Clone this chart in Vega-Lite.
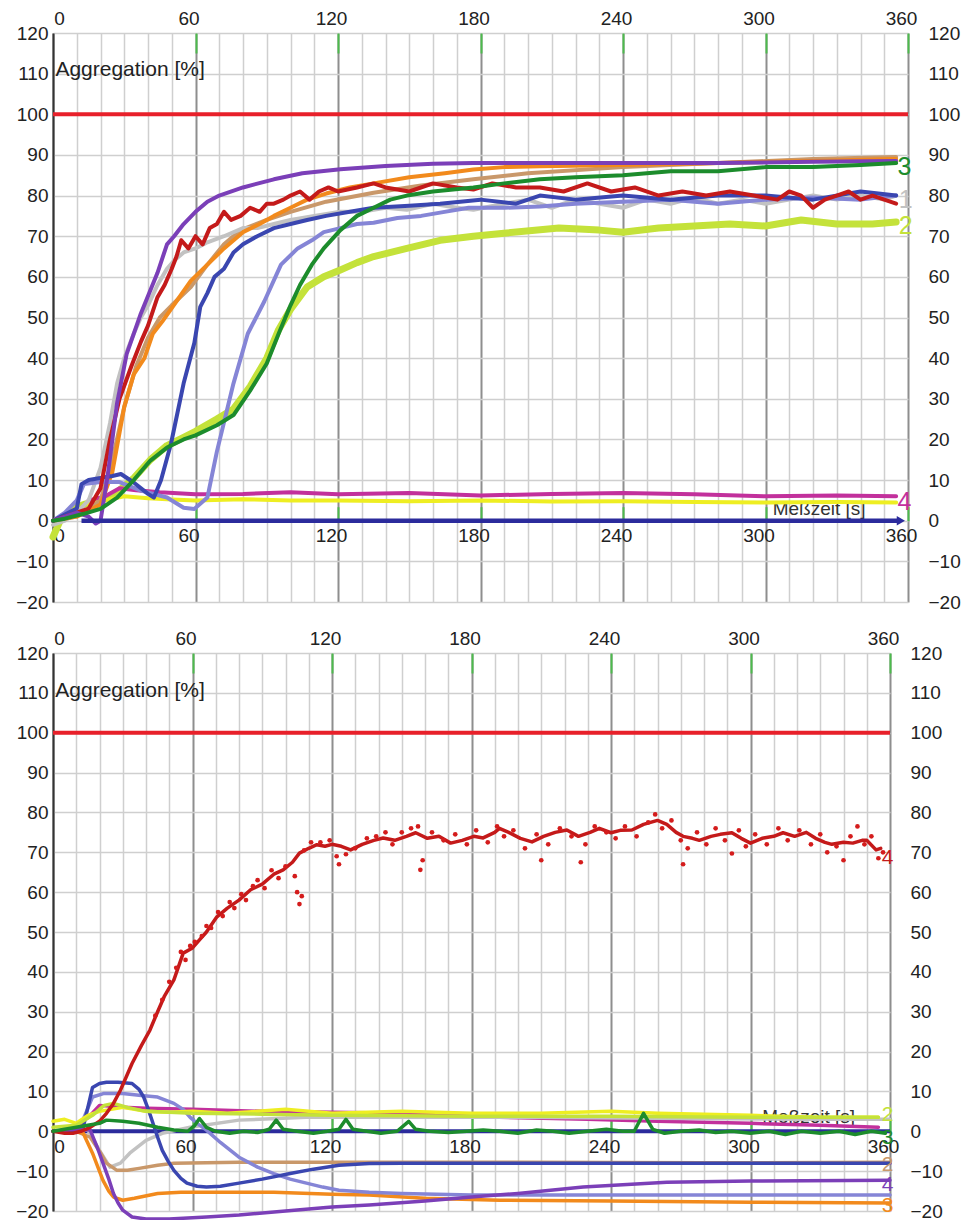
{
"$schema": "https://vega.github.io/schema/vega-lite/v6.json",
"background": "white",
"padding": {"left": 15, "top": 9, "right": 0, "bottom": 0},
"autosize": {"type": "pad"},
"config": {"view": {"stroke": null}, "font": "Liberation Sans", "text": {"font": "Liberation Sans"}},
"spacing": 51,
"bounds": "flush",
"datasets": {
"one": [{}],
"top": [
{"s":"yellow","t":15,"v":4},{"s":"yellow","t":22,"v":5},{"s":"yellow","t":30,"v":6},{"s":"yellow","t":40,"v":5.5},{"s":"yellow","t":50,"v":5.2},{"s":"yellow","t":60,"v":5},{"s":"yellow","t":80,"v":5.3},{"s":"yellow","t":100,"v":5},{"s":"yellow","t":120,"v":5},{"s":"yellow","t":150,"v":4.8},{"s":"yellow","t":180,"v":5},{"s":"yellow","t":210,"v":4.7},{"s":"yellow","t":240,"v":4.8},{"s":"yellow","t":270,"v":4.6},{"s":"yellow","t":300,"v":4.5},{"s":"yellow","t":330,"v":4.6},{"s":"yellow","t":355,"v":4.5},
{"s":"magenta","t":15,"v":5},{"s":"magenta","t":22,"v":6},{"s":"magenta","t":28,"v":8},{"s":"magenta","t":35,"v":7.5},{"s":"magenta","t":45,"v":7},{"s":"magenta","t":60,"v":6.5},{"s":"magenta","t":80,"v":6.6},{"s":"magenta","t":100,"v":7},{"s":"magenta","t":120,"v":6.5},{"s":"magenta","t":150,"v":6.8},{"s":"magenta","t":180,"v":6.2},{"s":"magenta","t":210,"v":6.6},{"s":"magenta","t":240,"v":6.8},{"s":"magenta","t":270,"v":6.5},{"s":"magenta","t":300,"v":6},{"s":"magenta","t":330,"v":6.2},{"s":"magenta","t":355,"v":6},
{"s":"lime","t":0,"v":-4},{"s":"lime","t":3,"v":0},{"s":"lime","t":8,"v":3},{"s":"lime","t":13,"v":4},{"s":"lime","t":20,"v":5},{"s":"lime","t":27,"v":7},{"s":"lime","t":34,"v":10.5},{"s":"lime","t":41,"v":15},{"s":"lime","t":48,"v":18.5},{"s":"lime","t":55,"v":20.5},{"s":"lime","t":60,"v":22},{"s":"lime","t":69,"v":25},{"s":"lime","t":76,"v":27.5},{"s":"lime","t":83,"v":33},{"s":"lime","t":90,"v":40},{"s":"lime","t":95,"v":47},{"s":"lime","t":100,"v":52},{"s":"lime","t":107,"v":57.5},{"s":"lime","t":114,"v":60},{"s":"lime","t":121,"v":61.7},{"s":"lime","t":128,"v":63.5},{"s":"lime","t":135,"v":65},{"s":"lime","t":149,"v":67},{"s":"lime","t":163,"v":69},{"s":"lime","t":177,"v":70},{"s":"lime","t":191,"v":70.8},{"s":"lime","t":213,"v":72},{"s":"lime","t":230,"v":71.5},{"s":"lime","t":240,"v":71},{"s":"lime","t":255,"v":72},{"s":"lime","t":270,"v":72.5},{"s":"lime","t":285,"v":73},{"s":"lime","t":300,"v":72.5},{"s":"lime","t":315,"v":74},{"s":"lime","t":330,"v":73},{"s":"lime","t":345,"v":73},{"s":"lime","t":355,"v":73.5},
{"s":"tan","t":0,"v":0},{"s":"tan","t":10,"v":1},{"s":"tan","t":20,"v":5},{"s":"tan","t":25,"v":15},{"s":"tan","t":30,"v":28},{"s":"tan","t":35,"v":38},{"s":"tan","t":40,"v":45},{"s":"tan","t":45,"v":50},{"s":"tan","t":50,"v":53},{"s":"tan","t":58,"v":57.5},{"s":"tan","t":65,"v":63},{"s":"tan","t":72,"v":68},{"s":"tan","t":79,"v":71.5},{"s":"tan","t":90,"v":74},{"s":"tan","t":100,"v":76},{"s":"tan","t":115,"v":78.5},{"s":"tan","t":135,"v":80.7},{"s":"tan","t":155,"v":82.5},{"s":"tan","t":177,"v":84},{"s":"tan","t":200,"v":85.5},{"s":"tan","t":240,"v":87},{"s":"tan","t":280,"v":88},{"s":"tan","t":320,"v":89},{"s":"tan","t":355,"v":89.5},
{"s":"gray","t":0,"v":-1},{"s":"gray","t":5,"v":0},{"s":"gray","t":10,"v":2},{"s":"gray","t":15,"v":5},{"s":"gray","t":20,"v":13},{"s":"gray","t":24,"v":24},{"s":"gray","t":27,"v":33.8},{"s":"gray","t":30,"v":40},{"s":"gray","t":34,"v":46},{"s":"gray","t":37,"v":50},{"s":"gray","t":40,"v":53},{"s":"gray","t":44,"v":58},{"s":"gray","t":48,"v":62},{"s":"gray","t":51,"v":64},{"s":"gray","t":55,"v":66},{"s":"gray","t":60,"v":67},{"s":"gray","t":65,"v":68.5},{"s":"gray","t":72,"v":70},{"s":"gray","t":80,"v":72},{"s":"gray","t":86,"v":72},{"s":"gray","t":93,"v":73},{"s":"gray","t":100,"v":74},{"s":"gray","t":110,"v":75},{"s":"gray","t":121,"v":76},{"s":"gray","t":130,"v":76},{"s":"gray","t":140,"v":77},{"s":"gray","t":149,"v":76.5},{"s":"gray","t":160,"v":78},{"s":"gray","t":170,"v":77},{"s":"gray","t":177,"v":76.5},{"s":"gray","t":190,"v":78},{"s":"gray","t":200,"v":79},{"s":"gray","t":210,"v":77},{"s":"gray","t":220,"v":79},{"s":"gray","t":230,"v":78},{"s":"gray","t":240,"v":77},{"s":"gray","t":250,"v":79},{"s":"gray","t":260,"v":78},{"s":"gray","t":270,"v":79.5},{"s":"gray","t":280,"v":78},{"s":"gray","t":290,"v":79},{"s":"gray","t":300,"v":78},{"s":"gray","t":310,"v":79},{"s":"gray","t":320,"v":80},{"s":"gray","t":330,"v":79},{"s":"gray","t":340,"v":80},{"s":"gray","t":350,"v":79},{"s":"gray","t":355,"v":80},
{"s":"orange","t":0,"v":0},{"s":"orange","t":10,"v":1},{"s":"orange","t":20,"v":4},{"s":"orange","t":25,"v":12},{"s":"orange","t":30,"v":28},{"s":"orange","t":34,"v":36},{"s":"orange","t":38.5,"v":40},{"s":"orange","t":42,"v":46},{"s":"orange","t":46,"v":49},{"s":"orange","t":52,"v":54},{"s":"orange","t":58,"v":59},{"s":"orange","t":65,"v":63},{"s":"orange","t":72,"v":67},{"s":"orange","t":80,"v":71},{"s":"orange","t":87,"v":73},{"s":"orange","t":93,"v":75},{"s":"orange","t":100,"v":77},{"s":"orange","t":107,"v":79},{"s":"orange","t":115,"v":80.5},{"s":"orange","t":125,"v":82},{"s":"orange","t":135,"v":83},{"s":"orange","t":150,"v":84.5},{"s":"orange","t":165,"v":85.5},{"s":"orange","t":177,"v":86.4},{"s":"orange","t":190,"v":87},{"s":"orange","t":205,"v":87.2},{"s":"orange","t":240,"v":87.5},{"s":"orange","t":280,"v":88},{"s":"orange","t":320,"v":88.5},{"s":"orange","t":355,"v":89},
{"s":"periwinkle","t":0,"v":0},{"s":"periwinkle","t":5,"v":2},{"s":"periwinkle","t":10,"v":5},{"s":"periwinkle","t":13,"v":9},{"s":"periwinkle","t":20,"v":9.5},{"s":"periwinkle","t":28,"v":9.5},{"s":"periwinkle","t":37,"v":7.4},{"s":"periwinkle","t":48,"v":5.7},{"s":"periwinkle","t":55,"v":3.2},{"s":"periwinkle","t":59.5,"v":2.9},{"s":"periwinkle","t":65,"v":5.7},{"s":"periwinkle","t":69,"v":17},{"s":"periwinkle","t":76,"v":33.8},{"s":"periwinkle","t":82,"v":46},{"s":"periwinkle","t":89,"v":54},{"s":"periwinkle","t":96,"v":63},{"s":"periwinkle","t":103,"v":67},{"s":"periwinkle","t":109,"v":69},{"s":"periwinkle","t":114,"v":71},{"s":"periwinkle","t":121,"v":72},{"s":"periwinkle","t":128,"v":73},{"s":"periwinkle","t":135,"v":73.3},{"s":"periwinkle","t":145,"v":74.5},{"s":"periwinkle","t":155,"v":75},{"s":"periwinkle","t":163,"v":75.8},{"s":"periwinkle","t":175,"v":77},{"s":"periwinkle","t":190,"v":77},{"s":"periwinkle","t":205,"v":77.3},{"s":"periwinkle","t":220,"v":78},{"s":"periwinkle","t":240,"v":78.5},{"s":"periwinkle","t":260,"v":79},{"s":"periwinkle","t":280,"v":78},{"s":"periwinkle","t":300,"v":79},{"s":"periwinkle","t":320,"v":79.5},{"s":"periwinkle","t":340,"v":79},{"s":"periwinkle","t":355,"v":80},
{"s":"blue","t":0,"v":0},{"s":"blue","t":5,"v":1.5},{"s":"blue","t":10,"v":3},{"s":"blue","t":12,"v":9},{"s":"blue","t":15,"v":10},{"s":"blue","t":20,"v":10.5},{"s":"blue","t":25,"v":11},{"s":"blue","t":28.6,"v":11.5},{"s":"blue","t":34,"v":9.4},{"s":"blue","t":40,"v":6.6},{"s":"blue","t":42.5,"v":5.7},{"s":"blue","t":45.5,"v":10},{"s":"blue","t":49.7,"v":19},{"s":"blue","t":55,"v":33.8},{"s":"blue","t":59.5,"v":43.7},{"s":"blue","t":62,"v":52.6},{"s":"blue","t":65,"v":56},{"s":"blue","t":68,"v":60},{"s":"blue","t":72,"v":62},{"s":"blue","t":76,"v":66},{"s":"blue","t":80,"v":68},{"s":"blue","t":86,"v":70},{"s":"blue","t":93,"v":72},{"s":"blue","t":100,"v":73},{"s":"blue","t":107,"v":74},{"s":"blue","t":115,"v":75},{"s":"blue","t":125,"v":76},{"s":"blue","t":135,"v":77},{"s":"blue","t":150,"v":77.5},{"s":"blue","t":163,"v":78},{"s":"blue","t":180,"v":79},{"s":"blue","t":195,"v":78},{"s":"blue","t":205,"v":80},{"s":"blue","t":220,"v":79},{"s":"blue","t":240,"v":80},{"s":"blue","t":260,"v":79},{"s":"blue","t":280,"v":80},{"s":"blue","t":300,"v":80},{"s":"blue","t":320,"v":79},{"s":"blue","t":340,"v":81},{"s":"blue","t":355,"v":80},
{"s":"red","t":0,"v":0},{"s":"red","t":5,"v":1},{"s":"red","t":10,"v":2},{"s":"red","t":15,"v":3},{"s":"red","t":20,"v":8},{"s":"red","t":24,"v":20},{"s":"red","t":28,"v":30},{"s":"red","t":33,"v":38},{"s":"red","t":37,"v":44},{"s":"red","t":40,"v":48},{"s":"red","t":44,"v":55},{"s":"red","t":47,"v":58},{"s":"red","t":50,"v":62},{"s":"red","t":52,"v":65},{"s":"red","t":54,"v":69},{"s":"red","t":57,"v":67},{"s":"red","t":60,"v":70},{"s":"red","t":63,"v":68},{"s":"red","t":66,"v":72},{"s":"red","t":69,"v":73},{"s":"red","t":72,"v":76},{"s":"red","t":75,"v":74},{"s":"red","t":79,"v":75},{"s":"red","t":83,"v":77},{"s":"red","t":87,"v":76},{"s":"red","t":90,"v":78},{"s":"red","t":93,"v":78},{"s":"red","t":97,"v":79},{"s":"red","t":100,"v":80},{"s":"red","t":104,"v":81},{"s":"red","t":108,"v":79},{"s":"red","t":112,"v":81},{"s":"red","t":116,"v":82},{"s":"red","t":120,"v":81},{"s":"red","t":128,"v":82},{"s":"red","t":135,"v":83},{"s":"red","t":140,"v":82},{"s":"red","t":150,"v":81},{"s":"red","t":160,"v":83},{"s":"red","t":170,"v":82},{"s":"red","t":177,"v":81.5},{"s":"red","t":185,"v":83},{"s":"red","t":195,"v":82},{"s":"red","t":205,"v":82},{"s":"red","t":215,"v":81},{"s":"red","t":225,"v":83},{"s":"red","t":235,"v":81},{"s":"red","t":245,"v":82},{"s":"red","t":255,"v":80},{"s":"red","t":265,"v":81},{"s":"red","t":275,"v":80},{"s":"red","t":285,"v":81},{"s":"red","t":295,"v":80},{"s":"red","t":305,"v":79},{"s":"red","t":310,"v":81},{"s":"red","t":315,"v":80},{"s":"red","t":320,"v":77},{"s":"red","t":325,"v":79},{"s":"red","t":330,"v":80},{"s":"red","t":335,"v":81},{"s":"red","t":340,"v":79},{"s":"red","t":345,"v":80},{"s":"red","t":350,"v":79},{"s":"red","t":355,"v":78},
{"s":"purple","t":0,"v":0},{"s":"purple","t":5,"v":1},{"s":"purple","t":10,"v":2},{"s":"purple","t":15,"v":1},{"s":"purple","t":18,"v":-0.7},{"s":"purple","t":20,"v":0},{"s":"purple","t":23,"v":11},{"s":"purple","t":27,"v":29},{"s":"purple","t":31,"v":41},{"s":"purple","t":37,"v":51},{"s":"purple","t":44,"v":61},{"s":"purple","t":48,"v":68},{"s":"purple","t":51,"v":70},{"s":"purple","t":55,"v":73},{"s":"purple","t":60,"v":76},{"s":"purple","t":65,"v":78.5},{"s":"purple","t":70,"v":80},{"s":"purple","t":80,"v":82},{"s":"purple","t":93,"v":84},{"s":"purple","t":105,"v":85.5},{"s":"purple","t":121,"v":86.5},{"s":"purple","t":140,"v":87.3},{"s":"purple","t":160,"v":87.8},{"s":"purple","t":177,"v":88},{"s":"purple","t":200,"v":88},{"s":"purple","t":240,"v":88},{"s":"purple","t":280,"v":88},{"s":"purple","t":320,"v":88.3},{"s":"purple","t":355,"v":88.5},
{"s":"green","t":0,"v":0},{"s":"green","t":5,"v":0.5},{"s":"green","t":13,"v":1.7},{"s":"green","t":20,"v":2.9},{"s":"green","t":27,"v":5.7},{"s":"green","t":34,"v":10},{"s":"green","t":41,"v":14.8},{"s":"green","t":48,"v":18},{"s":"green","t":55,"v":20},{"s":"green","t":60,"v":21},{"s":"green","t":69,"v":23.5},{"s":"green","t":76,"v":26},{"s":"green","t":83,"v":32},{"s":"green","t":90,"v":38.7},{"s":"green","t":95,"v":46},{"s":"green","t":100,"v":53},{"s":"green","t":104,"v":58},{"s":"green","t":109,"v":63},{"s":"green","t":114,"v":67},{"s":"green","t":121,"v":71.5},{"s":"green","t":128,"v":75},{"s":"green","t":135,"v":77},{"s":"green","t":142,"v":79},{"s":"green","t":149,"v":80},{"s":"green","t":160,"v":81},{"s":"green","t":177,"v":82},{"s":"green","t":190,"v":83},{"s":"green","t":205,"v":84},{"s":"green","t":220,"v":84.5},{"s":"green","t":240,"v":85},{"s":"green","t":260,"v":86},{"s":"green","t":280,"v":86},{"s":"green","t":300,"v":87},{"s":"green","t":320,"v":87},{"s":"green","t":340,"v":87.5},{"s":"green","t":355,"v":88}
],
"topLabels": [
{"label":"3","s":"green","t":358.5,"v":87},{"label":"1","s":"gray","t":359,"v":79},{"label":"2","s":"lime","t":359,"v":72.4},{"label":"4","s":"magenta","t":358.5,"v":4.5}
],
"bottom": [
{"s":"magenta","t":10,"v":1},{"s":"magenta","t":16,"v":4},{"s":"magenta","t":20,"v":6.5},{"s":"magenta","t":30,"v":6},{"s":"magenta","t":40,"v":5.8},{"s":"magenta","t":60,"v":5.5},{"s":"magenta","t":90,"v":5},{"s":"magenta","t":120,"v":4.8},{"s":"magenta","t":150,"v":4.5},{"s":"magenta","t":192,"v":3.5},{"s":"magenta","t":230,"v":3},{"s":"magenta","t":260,"v":2.5},{"s":"magenta","t":300,"v":2},{"s":"magenta","t":330,"v":1.5},{"s":"magenta","t":355,"v":1},
{"s":"gray","t":0,"v":0},{"s":"gray","t":10,"v":0.5},{"s":"gray","t":15,"v":0.3},{"s":"gray","t":20,"v":-4.8},{"s":"gray","t":24.5,"v":-9},{"s":"gray","t":29,"v":-8},{"s":"gray","t":33,"v":-5.5},{"s":"gray","t":40,"v":-2.3},{"s":"gray","t":47,"v":-0.5},{"s":"gray","t":59,"v":1},{"s":"gray","t":80,"v":2.8},{"s":"gray","t":109,"v":3.5},{"s":"gray","t":150,"v":3.5},{"s":"gray","t":200,"v":3.5},{"s":"gray","t":260,"v":3.3},{"s":"gray","t":320,"v":3},{"s":"gray","t":360,"v":3},
{"s":"tan","t":0,"v":0},{"s":"tan","t":10,"v":0},{"s":"tan","t":16,"v":-1.5},{"s":"tan","t":20,"v":-5},{"s":"tan","t":23,"v":-8},{"s":"tan","t":27.5,"v":-9.8},{"s":"tan","t":32,"v":-9.8},{"s":"tan","t":37,"v":-9.3},{"s":"tan","t":45,"v":-8.5},{"s":"tan","t":52,"v":-8},{"s":"tan","t":80,"v":-7.8},{"s":"tan","t":136,"v":-7.8},{"s":"tan","t":200,"v":-7.8},{"s":"tan","t":280,"v":-7.9},{"s":"tan","t":360,"v":-7.8},
{"s":"orange","t":0,"v":0},{"s":"orange","t":10,"v":0},{"s":"orange","t":13,"v":-0.5},{"s":"orange","t":17,"v":-5.5},{"s":"orange","t":21.5,"v":-12.3},{"s":"orange","t":24,"v":-15},{"s":"orange","t":26,"v":-16.5},{"s":"orange","t":30,"v":-17.3},{"s":"orange","t":35,"v":-16.8},{"s":"orange","t":45,"v":-15.6},{"s":"orange","t":55,"v":-15.3},{"s":"orange","t":66,"v":-15.3},{"s":"orange","t":95,"v":-15.3},{"s":"orange","t":120,"v":-15.8},{"s":"orange","t":136,"v":-16},{"s":"orange","t":160,"v":-16.8},{"s":"orange","t":192,"v":-17.3},{"s":"orange","t":240,"v":-17.5},{"s":"orange","t":300,"v":-17.8},{"s":"orange","t":360,"v":-18},
{"s":"periwinkle","t":0,"v":0},{"s":"periwinkle","t":8,"v":0.5},{"s":"periwinkle","t":13,"v":3},{"s":"periwinkle","t":17,"v":8.6},{"s":"periwinkle","t":22,"v":9.5},{"s":"periwinkle","t":30,"v":9.5},{"s":"periwinkle","t":38,"v":9},{"s":"periwinkle","t":45,"v":8.6},{"s":"periwinkle","t":52,"v":7},{"s":"periwinkle","t":56,"v":5.5},{"s":"periwinkle","t":59,"v":3.5},{"s":"periwinkle","t":62,"v":2},{"s":"periwinkle","t":66,"v":0.3},{"s":"periwinkle","t":72,"v":-2.8},{"s":"periwinkle","t":80,"v":-6.5},{"s":"periwinkle","t":88,"v":-9},{"s":"periwinkle","t":95,"v":-10.6},{"s":"periwinkle","t":102,"v":-12},{"s":"periwinkle","t":109,"v":-13},{"s":"periwinkle","t":116,"v":-14},{"s":"periwinkle","t":123,"v":-14.8},{"s":"periwinkle","t":136,"v":-15.3},{"s":"periwinkle","t":150,"v":-15.6},{"s":"periwinkle","t":180,"v":-16},{"s":"periwinkle","t":240,"v":-16},{"s":"periwinkle","t":300,"v":-16},{"s":"periwinkle","t":360,"v":-16},
{"s":"blue","t":0,"v":0},{"s":"blue","t":8,"v":0},{"s":"blue","t":13,"v":1},{"s":"blue","t":15,"v":6},{"s":"blue","t":17,"v":11},{"s":"blue","t":20,"v":12},{"s":"blue","t":23,"v":12.3},{"s":"blue","t":28,"v":12.3},{"s":"blue","t":34,"v":12},{"s":"blue","t":37,"v":10.5},{"s":"blue","t":39,"v":8.6},{"s":"blue","t":41,"v":5.5},{"s":"blue","t":43,"v":2},{"s":"blue","t":45,"v":-1.5},{"s":"blue","t":47,"v":-4.8},{"s":"blue","t":49.5,"v":-7.5},{"s":"blue","t":52,"v":-9.8},{"s":"blue","t":55,"v":-11.8},{"s":"blue","t":57.6,"v":-13},{"s":"blue","t":62,"v":-13.8},{"s":"blue","t":66,"v":-14},{"s":"blue","t":72,"v":-13.8},{"s":"blue","t":80,"v":-13},{"s":"blue","t":90,"v":-12},{"s":"blue","t":102,"v":-10.6},{"s":"blue","t":112,"v":-9.5},{"s":"blue","t":123,"v":-8.5},{"s":"blue","t":136,"v":-8.1},{"s":"blue","t":150,"v":-8},{"s":"blue","t":180,"v":-8},{"s":"blue","t":240,"v":-8},{"s":"blue","t":300,"v":-8},{"s":"blue","t":360,"v":-8},
{"s":"purple","t":0,"v":0},{"s":"purple","t":10,"v":0.5},{"s":"purple","t":16,"v":0.3},{"s":"purple","t":19,"v":-4},{"s":"purple","t":21.5,"v":-8},{"s":"purple","t":24,"v":-12},{"s":"purple","t":26,"v":-15.6},{"s":"purple","t":28,"v":-18},{"s":"purple","t":30,"v":-19.8},{"s":"purple","t":34,"v":-21.5},{"s":"purple","t":40,"v":-22},{"s":"purple","t":50,"v":-22},{"s":"purple","t":66,"v":-21.5},{"s":"purple","t":80,"v":-21},{"s":"purple","t":100,"v":-20},{"s":"purple","t":120,"v":-19},{"s":"purple","t":136,"v":-18.5},{"s":"purple","t":160,"v":-17.5},{"s":"purple","t":180,"v":-16.5},{"s":"purple","t":200,"v":-15.6},{"s":"purple","t":228,"v":-14},{"s":"purple","t":264,"v":-12.8},{"s":"purple","t":300,"v":-12.5},{"s":"purple","t":360,"v":-12.3},
{"s":"yellow","t":0,"v":2.5},{"s":"yellow","t":5,"v":3},{"s":"yellow","t":10,"v":2},{"s":"yellow","t":15,"v":4},{"s":"yellow","t":20,"v":5},{"s":"yellow","t":30,"v":6},{"s":"yellow","t":40,"v":5},{"s":"yellow","t":50,"v":4.8},{"s":"yellow","t":60,"v":5},{"s":"yellow","t":75,"v":4.5},{"s":"yellow","t":100,"v":5.5},{"s":"yellow","t":120,"v":4.5},{"s":"yellow","t":150,"v":5},{"s":"yellow","t":180,"v":4.5},{"s":"yellow","t":210,"v":4.5},{"s":"yellow","t":240,"v":5},{"s":"yellow","t":260,"v":4.5},{"s":"yellow","t":300,"v":4},{"s":"yellow","t":330,"v":3.5},{"s":"yellow","t":355,"v":3.5},
{"s":"lime","t":0,"v":1},{"s":"lime","t":10,"v":1.5},{"s":"lime","t":17,"v":4},{"s":"lime","t":22,"v":6.5},{"s":"lime","t":26,"v":7},{"s":"lime","t":32,"v":6},{"s":"lime","t":40,"v":5},{"s":"lime","t":60,"v":4.5},{"s":"lime","t":90,"v":4.3},{"s":"lime","t":120,"v":4},{"s":"lime","t":180,"v":3.8},{"s":"lime","t":240,"v":3.8},{"s":"lime","t":300,"v":3.5},{"s":"lime","t":355,"v":3.5},
{"s":"red","t":0,"v":0},{"s":"red","t":5,"v":-0.5},{"s":"red","t":8.6,"v":-0.5},{"s":"red","t":12,"v":0},{"s":"red","t":16,"v":1},{"s":"red","t":20,"v":2.5},{"s":"red","t":23,"v":4.5},{"s":"red","t":26,"v":7},{"s":"red","t":29,"v":10.3},{"s":"red","t":34,"v":17},{"s":"red","t":38,"v":21.5},{"s":"red","t":41.7,"v":25.4},{"s":"red","t":45,"v":30},{"s":"red","t":48,"v":34},{"s":"red","t":52,"v":38},{"s":"red","t":56,"v":44.7},{"s":"red","t":60,"v":46},{"s":"red","t":63,"v":48},{"s":"red","t":66,"v":50},{"s":"red","t":70.5,"v":53.8},{"s":"red","t":75,"v":56},{"s":"red","t":80,"v":58},{"s":"red","t":85,"v":60.6},{"s":"red","t":90,"v":62},{"s":"red","t":95,"v":64.5},{"s":"red","t":99,"v":65.6},{"s":"red","t":103,"v":67.5},{"s":"red","t":106,"v":69.8},{"s":"red","t":110,"v":71},{"s":"red","t":113.5,"v":71.9},{"s":"red","t":117,"v":71.5},{"s":"red","t":120,"v":72},{"s":"red","t":124,"v":71.5},{"s":"red","t":128,"v":70.6},{"s":"red","t":133,"v":72},{"s":"red","t":138,"v":73},{"s":"red","t":142,"v":73.6},{"s":"red","t":147,"v":73},{"s":"red","t":152,"v":74},{"s":"red","t":156,"v":74.9},{"s":"red","t":161,"v":73.5},{"s":"red","t":166,"v":74},{"s":"red","t":171,"v":72.3},{"s":"red","t":176,"v":73},{"s":"red","t":181,"v":74},{"s":"red","t":185,"v":73.6},{"s":"red","t":190,"v":75},{"s":"red","t":192,"v":76},{"s":"red","t":196,"v":75},{"s":"red","t":201,"v":73.5},{"s":"red","t":206,"v":72.6},{"s":"red","t":211,"v":74},{"s":"red","t":216,"v":75},{"s":"red","t":221,"v":75.6},{"s":"red","t":226,"v":74},{"s":"red","t":231,"v":75},{"s":"red","t":235,"v":76},{"s":"red","t":240,"v":74.9},{"s":"red","t":244,"v":75.5},{"s":"red","t":249,"v":75.6},{"s":"red","t":254,"v":77},{"s":"red","t":260,"v":78},{"s":"red","t":264,"v":77},{"s":"red","t":268,"v":75},{"s":"red","t":271,"v":74},{"s":"red","t":275,"v":73.5},{"s":"red","t":278,"v":73},{"s":"red","t":283,"v":74},{"s":"red","t":287,"v":74.5},{"s":"red","t":292,"v":74.9},{"s":"red","t":296,"v":73.5},{"s":"red","t":300,"v":72.3},{"s":"red","t":305,"v":73.5},{"s":"red","t":310,"v":74},{"s":"red","t":314,"v":74.9},{"s":"red","t":319,"v":74},{"s":"red","t":324,"v":75},{"s":"red","t":328,"v":73.5},{"s":"red","t":332,"v":72.5},{"s":"red","t":335,"v":72},{"s":"red","t":340,"v":72.5},{"s":"red","t":344,"v":72.3},{"s":"red","t":348,"v":73},{"s":"red","t":350,"v":73},{"s":"red","t":354,"v":70.6},{"s":"red","t":356,"v":71},
{"s":"green","t":0,"v":0},{"s":"green","t":5,"v":0.5},{"s":"green","t":10,"v":1},{"s":"green","t":15,"v":1.5},{"s":"green","t":20,"v":2},{"s":"green","t":23,"v":2.8},{"s":"green","t":30,"v":2.5},{"s":"green","t":37,"v":2},{"s":"green","t":45,"v":1},{"s":"green","t":52,"v":0.3},{"s":"green","t":58,"v":0},{"s":"green","t":61,"v":1.5},{"s":"green","t":63,"v":3.2},{"s":"green","t":66,"v":1},{"s":"green","t":70,"v":0},{"s":"green","t":76,"v":-0.5},{"s":"green","t":82,"v":0},{"s":"green","t":88,"v":-0.3},{"s":"green","t":93,"v":0.5},{"s":"green","t":96,"v":2.8},{"s":"green","t":99,"v":0.5},{"s":"green","t":105,"v":0},{"s":"green","t":112,"v":-0.5},{"s":"green","t":118,"v":0},{"s":"green","t":123,"v":0.5},{"s":"green","t":126,"v":3},{"s":"green","t":129,"v":0.5},{"s":"green","t":135,"v":0},{"s":"green","t":141,"v":-0.5},{"s":"green","t":148,"v":0},{"s":"green","t":153,"v":2.5},{"s":"green","t":156,"v":0.5},{"s":"green","t":162,"v":0},{"s":"green","t":170,"v":-0.3},{"s":"green","t":178,"v":0},{"s":"green","t":185,"v":0.3},{"s":"green","t":192,"v":0},{"s":"green","t":200,"v":-0.5},{"s":"green","t":208,"v":0.3},{"s":"green","t":215,"v":0},{"s":"green","t":222,"v":-0.5},{"s":"green","t":230,"v":0},{"s":"green","t":238,"v":0.5},{"s":"green","t":245,"v":0},{"s":"green","t":250,"v":0},{"s":"green","t":254,"v":4.5},{"s":"green","t":258,"v":0.5},{"s":"green","t":263,"v":-0.5},{"s":"green","t":270,"v":0},{"s":"green","t":278,"v":0.3},{"s":"green","t":285,"v":-0.3},{"s":"green","t":292,"v":0},{"s":"green","t":300,"v":-0.5},{"s":"green","t":308,"v":0},{"s":"green","t":315,"v":-0.8},{"s":"green","t":322,"v":0},{"s":"green","t":330,"v":-0.5},{"s":"green","t":338,"v":0},{"s":"green","t":345,"v":-0.8},{"s":"green","t":352,"v":0},{"s":"green","t":358,"v":-0.5}
],
"bottomDots": [
{"t":44,"v":29},{"t":47,"v":33},{"t":50,"v":37.5},{"t":53,"v":41},{"t":55,"v":45},{"t":57,"v":43},{"t":59,"v":46.5},{"t":61,"v":47.5},{"t":64,"v":49},{"t":66,"v":51.5},{"t":68,"v":51},{"t":71,"v":55},{"t":73,"v":54},{"t":76,"v":57.5},{"t":78,"v":56},{"t":81,"v":59.5},{"t":83,"v":58},{"t":86,"v":61.5},{"t":88,"v":63},{"t":91,"v":61},{"t":94,"v":65.5},{"t":97,"v":63.5},{"t":100,"v":66.5},{"t":104,"v":64},{"t":105,"v":60},{"t":106,"v":57},{"t":107,"v":59},{"t":108,"v":70.5},{"t":111,"v":72.5},{"t":115,"v":72.5},{"t":119,"v":73},{"t":122,"v":69},{"t":123,"v":67},{"t":126,"v":69.5},{"t":130,"v":71},{"t":135,"v":73.5},{"t":139,"v":74},{"t":143,"v":75},{"t":146,"v":72},{"t":150,"v":75},{"t":154,"v":76},{"t":157,"v":76.5},{"t":158,"v":65.6},{"t":159,"v":68},{"t":163,"v":75},{"t":168,"v":73},{"t":173,"v":74.5},{"t":178,"v":72},{"t":182,"v":75.5},{"t":187,"v":72.5},{"t":191,"v":76.5},{"t":194,"v":74},{"t":198,"v":75.5},{"t":203,"v":71},{"t":208,"v":74.5},{"t":210,"v":68},{"t":213,"v":72},{"t":218,"v":76},{"t":223,"v":74},{"t":227,"v":67.5},{"t":229,"v":72},{"t":233,"v":76.5},{"t":238,"v":75},{"t":242,"v":73.5},{"t":246,"v":76.5},{"t":251,"v":74},{"t":256,"v":77.5},{"t":259,"v":79.5},{"t":262,"v":76},{"t":266,"v":78},{"t":270,"v":73},{"t":271,"v":67},{"t":273,"v":71},{"t":277,"v":75},{"t":281,"v":72},{"t":285,"v":76},{"t":289,"v":73},{"t":292,"v":69.7},{"t":295,"v":75.5},{"t":298,"v":71.5},{"t":302,"v":74.5},{"t":307,"v":72},{"t":312,"v":76},{"t":316,"v":73},{"t":321,"v":75.5},{"t":326,"v":72},{"t":330,"v":74.5},{"t":333,"v":70},{"t":337,"v":71.5},{"t":340,"v":68},{"t":343,"v":74},{"t":346,"v":76.5},{"t":349,"v":72},{"t":352,"v":74},{"t":355,"v":68.5},{"t":357,"v":70}
],
"bottomLabels": [
{"label":"4","s":"red","t":359,"v":68.6},{"label":"2","s":"lime","t":359,"v":4.2},{"label":"3","s":"green","t":359,"v":-1.8},{"label":"2","s":"tan","t":359,"v":-8.5},{"label":"4","s":"purple","t":359,"v":-13.5},{"label":"3","s":"orange","t":359,"v":-18.8}
]
},
"vconcat": [
{
"width": 855, "height": 569,
"resolve": {"axis": {"x": "independent", "y": "independent"}},
"layer": [
{"data": {"name": "one"},
 "mark": {"type": "text", "text": "Meßzeit [s]", "align": "left", "baseline": "alphabetic", "fontSize": 19, "color": "#333333"},
 "encoding": {
  "x": {"datum": 303, "type": "quantitative", "scale": {"domain": [0, 360], "nice": false, "zero": false},
   "axis": {"orient": "bottom", "offset": -81.3, "values": [0, 60, 120, 180, 240, 300, 360], "grid": false, "domain": false, "ticks": false, "labelFontSize": 19, "labelFont": "Liberation Sans", "labelColor": "#222222", "labelPadding": 6, "labelFlush": false, "labelOverlap": false, "labelBound": false, "labelOffset": {"condition": {"test": "datum.value === 0", "value": 6}, "value": -7}, "title": null}},
  "y": {"datum": 1.3, "type": "quantitative", "scale": {"domain": [-20, 120], "nice": false, "zero": false}, "axis": null}}},
{"data": {"name": "one"},
 "mark": {"type": "rule", "color": "#e8202a", "strokeWidth": 4},
 "encoding": {"y": {"datum": 100, "type": "quantitative", "scale": {"domain": [-20, 120], "nice": false, "zero": false}, "axis": null}}},
{"data": {"name": "top"}, "transform": [{"filter": "datum.s === 'lime'"}],
 "mark": {"type": "line", "strokeWidth": 7, "strokeJoin": "round", "strokeCap": "round"},
 "encoding": {
  "x": {"field": "t", "type": "quantitative", "scale": {"domain": [0, 360], "nice": false, "zero": false},
   "axis": {"orient": "top", "values": [60, 120, 180, 240, 300, 360], "grid": false, "domain": false, "labels": false, "ticks": true, "tickSize": -20, "tickWidth": 2, "tickColor": "#4cbb4c", "title": null}},
  "y": {"field": "v", "type": "quantitative", "scale": {"domain": [-20, 120], "nice": false, "zero": false},
   "axis": {"orient": "left", "values": [-20, -10, 0, 10, 20, 30, 40, 50, 60, 70, 80, 90, 100, 110, 120], "grid": true, "gridColor": "#cfcfcf", "gridWidth": 1.5, "domain": true, "domainColor": "#333333", "domainWidth": 2, "ticks": false, "labelFontSize": 19, "labelFont": "Liberation Sans", "labelColor": "#222222", "labelPadding": 5, "labelFlush": false, "labelOverlap": false, "labelBound": false, "title": null}},
  "color": {"field": "s", "type": "nominal", "legend": null, "scale": {"domain": ["yellow", "magenta", "lime", "tan", "gray", "orange", "periwinkle", "blue", "red", "purple", "green"], "range": ["#eeee22", "#c2309c", "#c4e23a", "#c9986a", "#c2c2c2", "#f28a1c", "#8585d6", "#3a46b0", "#c41a1a", "#7b3fb8", "#1c8c2c"]}}}},
{"data": {"name": "top"}, "transform": [{"filter": "datum.s !== 'lime'"}],
 "mark": {"type": "line", "strokeWidth": 4, "strokeJoin": "round", "strokeCap": "round"},
 "encoding": {
  "x": {"field": "t", "type": "quantitative", "scale": {"domain": [0, 360], "nice": false, "zero": false}, "axis": null},
  "y": {"field": "v", "type": "quantitative", "scale": {"domain": [-20, 120], "nice": false, "zero": false}, "axis": null},
  "color": {"field": "s", "type": "nominal", "legend": null, "scale": {"domain": ["yellow", "magenta", "lime", "tan", "gray", "orange", "periwinkle", "blue", "red", "purple", "green"], "range": ["#eeee22", "#c2309c", "#c4e23a", "#c9986a", "#c2c2c2", "#f28a1c", "#8585d6", "#3a46b0", "#c41a1a", "#7b3fb8", "#1c8c2c"]}}}},
{"data": {"name": "one"},
 "mark": {"type": "rule", "color": "#2b2b9c", "strokeWidth": 4.5},
 "encoding": {
  "x": {"datum": 12, "type": "quantitative", "scale": {"domain": [0, 360], "nice": false, "zero": false},
   "axis": {"orient": "bottom", "offset": -81.3, "values": [60, 120, 180, 240, 300, 360], "grid": false, "domain": false, "labels": false, "ticks": true, "tickSize": -14, "tickWidth": 2, "tickColor": "#4cbb4c", "title": null}},
  "x2": {"datum": 356},
  "y": {"datum": 0, "type": "quantitative", "scale": {"domain": [-20, 120], "nice": false, "zero": false}, "axis": null}}},
{"data": {"name": "one"},
 "mark": {"type": "point", "shape": "triangle-right", "filled": true, "color": "#2b2b9c", "opacity": 1, "size": 90},
 "encoding": {
  "x": {"datum": 357, "type": "quantitative", "scale": {"domain": [0, 360], "nice": false, "zero": false}, "axis": null},
  "y": {"datum": 0, "type": "quantitative", "scale": {"domain": [-20, 120], "nice": false, "zero": false}, "axis": null}}},
{"data": {"name": "topLabels"},
 "mark": {"type": "text", "fontSize": 25, "align": "center", "baseline": "middle"},
 "encoding": {
  "x": {"field": "t", "type": "quantitative", "scale": {"domain": [0, 360], "nice": false, "zero": false},
   "axis": {"orient": "top", "values": [0, 10, 20, 30, 40, 50, 60, 70, 80, 90, 100, 110, 120, 130, 140, 150, 160, 170, 180, 190, 200, 210, 220, 230, 240, 250, 260, 270, 280, 290, 300, 310, 320, 330, 340, 350, 360], "grid": true, "gridColor": {"condition": {"test": "datum.value % 60 === 0", "value": "#8e8e8e"}, "value": "#cfcfcf"}, "gridWidth": {"condition": {"test": "datum.value % 60 === 0", "value": 2}, "value": 1.5}, "labelExpr": "datum.value % 60 === 0 ? datum.label : ''", "domain": false, "ticks": false, "labelFontSize": 19, "labelFont": "Liberation Sans", "labelColor": "#222222", "labelPadding": 5, "labelFlush": false, "labelOverlap": false, "labelBound": false, "labelOffset": {"condition": {"test": "datum.value === 0", "value": 6}, "value": -7}, "title": null}},
  "y": {"field": "v", "type": "quantitative", "scale": {"domain": [-20, 120], "nice": false, "zero": false},
   "axis": {"orient": "right", "values": [-20, -10, 0, 10, 20, 30, 40, 50, 60, 70, 80, 90, 100, 110, 120], "grid": false, "domain": false, "ticks": false, "labelFontSize": 19, "labelFont": "Liberation Sans", "labelColor": "#222222", "labelPadding": 20, "labelFlush": false, "labelOverlap": false, "labelBound": false, "title": null}},
  "text": {"field": "label", "type": "nominal"},
  "color": {"field": "s", "type": "nominal", "legend": null, "scale": {"domain": ["yellow", "magenta", "lime", "tan", "gray", "orange", "periwinkle", "blue", "red", "purple", "green"], "range": ["#eeee22", "#c2309c", "#c4e23a", "#c9986a", "#c2c2c2", "#f28a1c", "#8585d6", "#3a46b0", "#c41a1a", "#7b3fb8", "#1c8c2c"]}}}},
{"data": {"name": "one"},
 "mark": {"type": "text", "text": "Aggregation [%]", "align": "left", "baseline": "alphabetic", "fontSize": 21, "color": "#222222"},
 "encoding": {
  "x": {"datum": 1, "type": "quantitative", "scale": {"domain": [0, 360], "nice": false, "zero": false}, "axis": null},
  "y": {"datum": 109.5, "type": "quantitative", "scale": {"domain": [-20, 120], "nice": false, "zero": false}, "axis": null}}}
]
},
{
"width": 837, "height": 558,
"resolve": {"axis": {"x": "independent", "y": "independent"}},
"layer": [
{"data": {"name": "one"},
 "mark": {"type": "text", "text": "Meßzeit [s]", "align": "left", "baseline": "alphabetic", "fontSize": 19, "color": "#333333"},
 "encoding": {
  "x": {"datum": 305, "type": "quantitative", "scale": {"domain": [0, 360], "nice": false, "zero": false},
   "axis": {"orient": "bottom", "offset": -79.7, "values": [0, 60, 120, 180, 240, 300, 360], "grid": false, "domain": false, "ticks": false, "labelFontSize": 19, "labelFont": "Liberation Sans", "labelColor": "#222222", "labelPadding": 6, "labelFlush": false, "labelOverlap": false, "labelBound": false, "labelOffset": {"condition": {"test": "datum.value === 0", "value": 6}, "value": -7}, "title": null}},
  "y": {"datum": 2, "type": "quantitative", "scale": {"domain": [-20, 120], "nice": false, "zero": false}, "axis": null}}},
{"data": {"name": "one"},
 "mark": {"type": "rule", "color": "#e8202a", "strokeWidth": 4},
 "encoding": {"y": {"datum": 100, "type": "quantitative", "scale": {"domain": [-20, 120], "nice": false, "zero": false}, "axis": null}}},
{"data": {"name": "one"},
 "mark": {"type": "rule", "color": "#2b2b9c", "strokeWidth": 4},
 "encoding": {
  "x": {"datum": 10, "type": "quantitative", "scale": {"domain": [0, 360], "nice": false, "zero": false},
   "axis": {"orient": "bottom", "offset": -79.7, "values": [60, 120, 180, 240, 300, 360], "grid": false, "domain": false, "labels": false, "ticks": true, "tickSize": -14, "tickWidth": 2, "tickColor": "#4cbb4c", "title": null}},
  "x2": {"datum": 360},
  "y": {"datum": 0, "type": "quantitative", "scale": {"domain": [-20, 120], "nice": false, "zero": false}, "axis": null}}},
{"data": {"name": "bottom"},
 "mark": {"type": "line", "strokeWidth": 3.5, "strokeJoin": "round", "strokeCap": "round"},
 "encoding": {
  "x": {"field": "t", "type": "quantitative", "scale": {"domain": [0, 360], "nice": false, "zero": false},
   "axis": {"orient": "top", "values": [60, 120, 180, 240, 300, 360], "grid": false, "domain": false, "labels": false, "ticks": true, "tickSize": -20, "tickWidth": 2, "tickColor": "#4cbb4c", "title": null}},
  "y": {"field": "v", "type": "quantitative", "scale": {"domain": [-20, 120], "nice": false, "zero": false},
   "axis": {"orient": "left", "values": [-20, -10, 0, 10, 20, 30, 40, 50, 60, 70, 80, 90, 100, 110, 120], "grid": true, "gridColor": "#cfcfcf", "gridWidth": 1.5, "domain": true, "domainColor": "#333333", "domainWidth": 2, "ticks": false, "labelFontSize": 19, "labelFont": "Liberation Sans", "labelColor": "#222222", "labelPadding": 5, "labelFlush": false, "labelOverlap": false, "labelBound": false, "title": null}},
  "color": {"field": "s", "type": "nominal", "legend": null, "scale": {"domain": ["magenta", "gray", "tan", "orange", "periwinkle", "blue", "purple", "yellow", "lime", "red", "green"], "range": ["#d040a8", "#c8c8c8", "#c89060", "#f5841f", "#8c8cd8", "#4050b8", "#7a3cb8", "#eeee10", "#c8e840", "#d41c1c", "#1a8a2a"]}}}},
{"data": {"name": "bottomDots"},
 "mark": {"type": "point", "filled": true, "shape": "circle", "size": 22, "opacity": 1, "color": "#d41c1c"},
 "encoding": {
  "x": {"field": "t", "type": "quantitative", "scale": {"domain": [0, 360], "nice": false, "zero": false}, "axis": null},
  "y": {"field": "v", "type": "quantitative", "scale": {"domain": [-20, 120], "nice": false, "zero": false}, "axis": null}}},
{"data": {"name": "bottomLabels"},
 "mark": {"type": "text", "fontSize": 21, "align": "center", "baseline": "middle"},
 "encoding": {
  "x": {"field": "t", "type": "quantitative", "scale": {"domain": [0, 360], "nice": false, "zero": false},
   "axis": {"orient": "top", "values": [0, 10, 20, 30, 40, 50, 60, 70, 80, 90, 100, 110, 120, 130, 140, 150, 160, 170, 180, 190, 200, 210, 220, 230, 240, 250, 260, 270, 280, 290, 300, 310, 320, 330, 340, 350, 360], "grid": true, "gridColor": {"condition": {"test": "datum.value % 60 === 0", "value": "#8e8e8e"}, "value": "#cfcfcf"}, "gridWidth": {"condition": {"test": "datum.value % 60 === 0", "value": 2}, "value": 1.5}, "labelExpr": "datum.value % 60 === 0 ? datum.label : ''", "domain": false, "ticks": false, "labelFontSize": 19, "labelFont": "Liberation Sans", "labelColor": "#222222", "labelPadding": 5, "labelFlush": false, "labelOverlap": false, "labelBound": false, "labelOffset": {"condition": {"test": "datum.value === 0", "value": 6}, "value": -7}, "title": null}},
  "y": {"field": "v", "type": "quantitative", "scale": {"domain": [-20, 120], "nice": false, "zero": false},
   "axis": {"orient": "right", "values": [-20, -10, 0, 10, 20, 30, 40, 50, 60, 70, 80, 90, 100, 110, 120], "grid": false, "domain": false, "ticks": false, "labelFontSize": 19, "labelFont": "Liberation Sans", "labelColor": "#222222", "labelPadding": 20, "labelFlush": false, "labelOverlap": false, "labelBound": false, "title": null}},
  "text": {"field": "label", "type": "nominal"},
  "color": {"field": "s", "type": "nominal", "legend": null, "scale": {"domain": ["magenta", "gray", "tan", "orange", "periwinkle", "blue", "purple", "yellow", "lime", "red", "green"], "range": ["#d040a8", "#c8c8c8", "#c89060", "#f5841f", "#8c8cd8", "#4050b8", "#7a3cb8", "#eeee10", "#c8e840", "#d41c1c", "#1a8a2a"]}}}},
{"data": {"name": "one"},
 "mark": {"type": "text", "text": "Aggregation [%]", "align": "left", "baseline": "alphabetic", "fontSize": 21, "color": "#222222"},
 "encoding": {
  "x": {"datum": 1, "type": "quantitative", "scale": {"domain": [0, 360], "nice": false, "zero": false}, "axis": null},
  "y": {"datum": 109.0, "type": "quantitative", "scale": {"domain": [-20, 120], "nice": false, "zero": false}, "axis": null}}}
]
}
]
}
